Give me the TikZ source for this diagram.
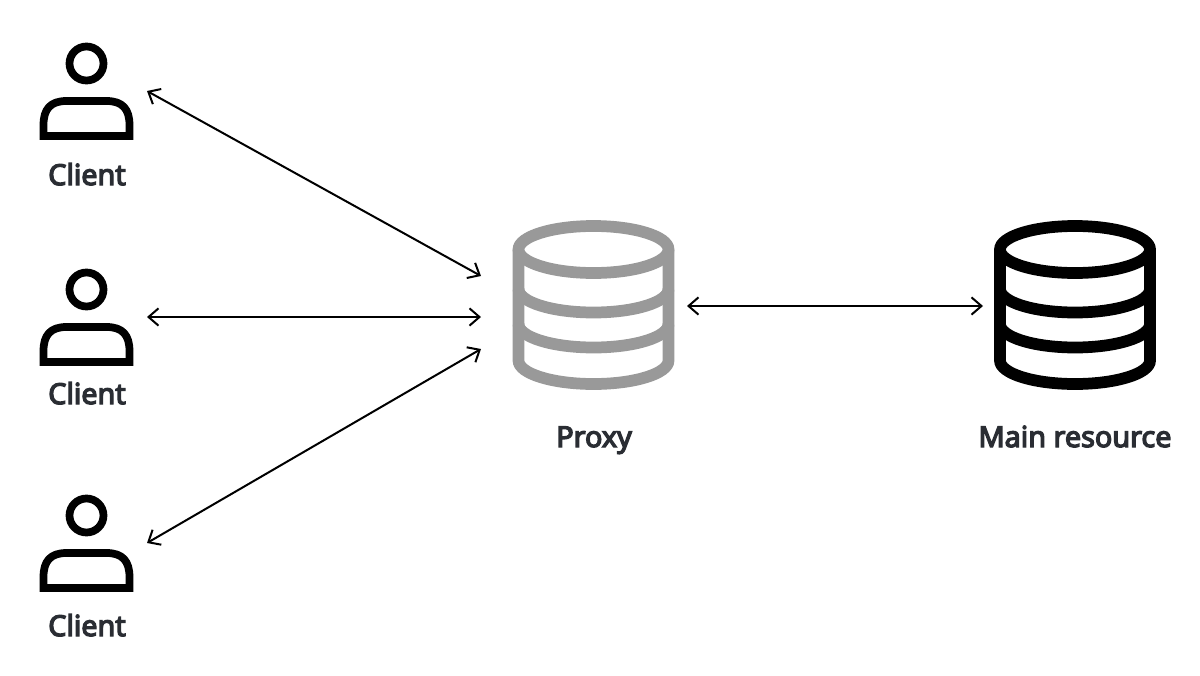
\documentclass[tikz,border=0pt]{standalone}
\usepackage{fontspec}
\setmainfont{Noto Sans}[AutoFakeBold=4.5]
\usepackage{xcolor}
\usetikzlibrary{positioning, arrows.meta}
\definecolor{inkdark}{HTML}{2A2D33}
\definecolor{proxygray}{HTML}{999999}

\begin{document}
\begin{tikzpicture}[x=0.75pt, y=-0.75pt]
        \tikzstyle{anchorbox} = [rectangle, inner sep=0pt, outer sep=0pt, minimum height=75pt]
        \tikzstyle{caption} = [text=inkdark, font=\fontsize{21.6}{26}\selectfont\bfseries, inner sep=0pt, anchor=base]
        \tikzstyle{link} = [line width=1.5pt, {Straight Barb[length=7.5pt, width=13pt]}-{Straight Barb[length=7.5pt, width=13pt]}]
        \tikzstyle{icon} = [line width=5.8pt, line join=miter]
        \tikzset{
          person/.pic={
            \draw[icon] (0,-27.5) circle (17);
            \draw[icon] (-43,45) -- (-43,34) .. controls (-43,18) and (-36,10) .. (-20,10)
              -- (20,10) .. controls (36,10) and (43,18) .. (43,34) -- (43,45) -- cycle;
          },
          dbstack/.pic={
            \draw[icon, line width=8.8pt, #1] (0,-55.5) ellipse (75 and 23.5);
            \draw[icon, line width=8.8pt, #1] (-75,-55.5) -- (-75,55.5) arc[start angle=180, end angle=0, x radius=75, y radius=23.5] -- (75,-55.5);
            \foreach \arcy in {-16,19}
              \draw[icon, line width=8.8pt, #1] (-75,\arcy) arc[start angle=180, end angle=0, x radius=75, y radius=23.5];
          }
        }
        \useasboundingbox (0,0) rectangle (1200,675);

        % clients
        \foreach \i/\y/\ty in {1/91/185, 2/317/404, 3/543/636} {
          \pic at (86.5,\y) {person};
          \node[anchorbox, minimum width=90pt] (client\i) at (87,\y) {};
          \node[caption] (clientlabel\i) at (87,\ty) {Client};
        }

        % stores
        \pic at (593.5,305) {dbstack=proxygray};
        \pic at (1075,305) {dbstack=black};
        \node[anchorbox, minimum width=154.5pt] (proxy) at (584,306) {};
        \node[anchorbox, minimum width=138pt] (main) at (1075,306) {};
        \node[caption] (proxylabel) at (594,447) {Proxy};
        \node[caption] (mainlabel) at (1075,447) {Main resource};

        \coordinate (proxyin1) at (481,276);
        \coordinate (proxyin2) at (481,317);
        \coordinate (proxyin3) at (481,349);

        \foreach \i in {1,2,3}
          \draw[link] (client\i.east) -- (proxyin\i);
        \draw[link] (proxy.east) -- (main.west);
      \end{tikzpicture}
\end{document}
